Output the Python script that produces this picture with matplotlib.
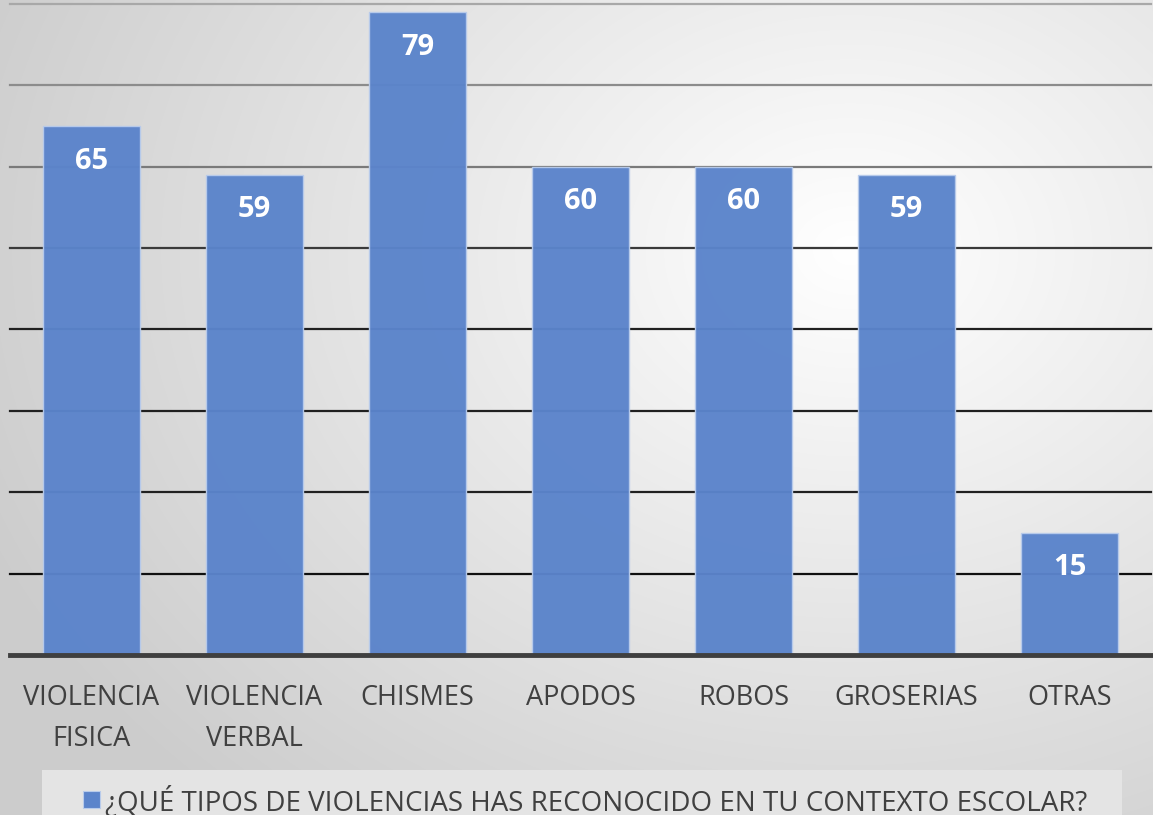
import numpy as np
import matplotlib
matplotlib.use("Agg")
import matplotlib.pyplot as plt
from matplotlib.patches import Rectangle

categories = ["VIOLENCIA\nFISICA", "VIOLENCIA\nVERBAL", "CHISMES", "APODOS", "ROBOS", "GROSERIAS", "OTRAS"]
values = [65, 59, 79, 60, 60, 59, 15]
series_name = "¿QUÉ TIPOS DE VIOLENCIAS HAS RECONOCIDO EN TU CONTEXTO ESCOLAR?"
grid_levels = [10, 20, 30, 40, 50, 60, 70, 80]

plt.rcParams['font.family'] = ['Open Sans', 'DejaVu Sans']

W, H = 1153, 815
fig = plt.figure(figsize=(W / 100, H / 100), dpi=100)

# radial gradient background
bg = fig.add_axes([0, 0, 1, 1], zorder=0)
yy, xx = np.mgrid[0:H, 0:W]
cx, cy = 850, 250
r = np.sqrt(((xx - cx) / 950.0) ** 2 + ((yy - cy) / 750.0) ** 2)
r = np.clip(r, 0, 1)
val = 1.0 - 0.2 * r
img = np.dstack([val, val, val])
bg.imshow(img, aspect='auto', extent=[0, 1, 0, 1], origin='upper')
bg.set_axis_off()

ax = fig.add_axes([10 / W, (H - 655) / H, 1141 / W, 651 / H], zorder=1)
ax.patch.set_alpha(0)
x = np.arange(len(categories))
ax.set_xlim(-0.5, len(categories) - 0.5)
ax.set_ylim(0, 80)

grid_colors = {80: "#a8a8a8", 70: "#8c8c8c", 60: "#7a7a7a", 50: "#3a3a3a",
               40: "#202020", 30: "#202020", 20: "#202020", 10: "#101010"}
for g in grid_levels:
    ax.axhline(g, color=grid_colors[g], lw=1.6, zorder=1, clip_on=False)

bars = ax.bar(x, values, width=0.6, color="#5B84CB", edgecolor="#b8cbeb",
              linewidth=1.0, zorder=2, alpha=0.97)
ax.axhline(0, color="#3f3f3f", lw=3.5, zorder=3, clip_on=False)

for xi, v in zip(x, values):
    ax.annotate(str(v), (xi, v), xytext=(0, -35), textcoords="offset pixels",
                ha="center", va="center", color="white", fontsize=21,
                fontweight="bold", zorder=4)

ax.set_xticks(x)
ax.set_xticklabels(categories, fontsize=19.5, color="#404040", linespacing=1.6)
ax.tick_params(axis='x', length=0, pad=21)
ax.set_yticks([])
for s in ax.spines.values():
    s.set_visible(False)

# legend box
fig.patches.append(Rectangle((42 / W, 0), (1122 - 42) / W, 45 / H,
                             transform=fig.transFigure, facecolor="#e4e4e4",
                             edgecolor="none", zorder=1))
fig.patches.append(Rectangle((83 / W, (H - 808) / H), 17 / W, 17 / H,
                             transform=fig.transFigure, facecolor="#5B84CB",
                             edgecolor="#b8cbeb", lw=0.8, zorder=2))
fig.text(105 / W, (H - 801) / H, series_name, ha="left", va="center",
         fontsize=20, color="#404040", zorder=3)

fig.savefig("out.png", dpi=100)
